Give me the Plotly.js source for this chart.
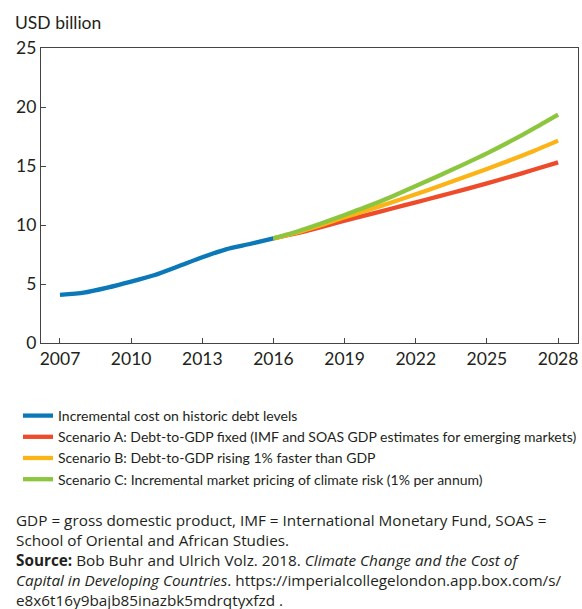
<!DOCTYPE html>
<html>
<head>
<meta charset="utf-8">
<script src="https://cdn.plot.ly/plotly-3.0.1.min.js"></script>
<style>html,body{margin:0;padding:0;background:#fff;}</style>
</head>
<body>
<div id="chart" style="width:582px;height:609px;"></div>
<script>
const histYears = [2007, 2008, 2009, 2010, 2011, 2012, 2013, 2014, 2015, 2016];
const histValues = [4.07, 4.26, 4.69, 5.2, 5.76, 6.5, 7.26, 7.94, 8.39, 8.87];
const scenYears = [2016, 2017, 2018, 2019, 2020, 2021, 2022, 2023, 2024, 2025, 2026, 2027, 2028];
const scenarioA = [8.87, 9.3, 9.82, 10.37, 10.88, 11.4, 11.92, 12.45, 12.98, 13.53, 14.1, 14.7, 15.31];
const scenarioB = [8.87, 9.38, 9.99, 10.65, 11.28, 11.93, 12.6, 13.3, 14.02, 14.75, 15.5, 16.3, 17.15];
const scenarioC = [8.87, 9.45, 10.12, 10.85, 11.6, 12.42, 13.3, 14.2, 15.12, 16.07, 17.1, 18.2, 19.35];
const seriesNames = [
  "Incremental cost on historic debt levels",
  "Scenario A: Debt-to-GDP fixed (IMF and SOAS GDP estimates for emerging markets)",
  "Scenario B: Debt-to-GDP rising 1% faster than GDP",
  "Scenario C: Incremental market pricing of climate risk (1% per annum)"
];
const xTicks = [2007, 2010, 2013, 2016, 2019, 2022, 2025, 2028];
const yTicks = [0, 5, 10, 15, 20, 25];
const noteLines = [
  "GDP = gross domestic product, IMF = International Monetary Fund, SOAS =",
  "School of Oriental and African Studies.",
  "<b>Source:</b> Bob Buhr and Ulrich Volz. 2018. <i>Climate Change and the Cost of</i>",
  "<i>Capital in Developing Countries</i>. https://imperialcollegelondon.app.box.com/s/",
  "e8x6t16y9bajb85inazbk5mdrqtyxfzd ."
];

const colors = ["#0b78b8", "#ee4b2b", "#fbb316", "#8cc63f"];
const FONT = "Lato, 'Open Sans', sans-serif";
const NOTEFONT = "'Open Sans', Lato, sans-serif";
const TXT = "#231f20";

const mk = (x, y, i) => ({
  x: x, y: y, name: seriesNames[i], type: "scatter", mode: "lines",
  line: {color: colors[i], width: 4.3, shape: "spline", smoothing: 0.6},
  hoverinfo: "skip"
});

const data = [
  mk(histYears, histValues, 0),
  mk(scenYears, scenarioA, 1),
  mk(scenYears, scenarioB, 2),
  mk(scenYears, scenarioC, 3)
];

// plot area: y from 48px to 343px (295px tall)
const pyFromPx = px => (343 - px) / 295;
const pxFromPx = px => (px - 41) / 537;

const annotations = [
  {text: "USD billion", xref: "paper", yref: "paper", x: pxFromPx(13), y: pyFromPx(22),
   xanchor: "left", yanchor: "middle", showarrow: false,
   font: {size: 17.5, color: TXT, family: FONT}},
  {text: noteLines.join("<br>"), xref: "paper", yref: "paper", x: pxFromPx(14), y: pyFromPx(560),
   xanchor: "left", yanchor: "middle", showarrow: false, align: "left",
   font: {size: 15.3, color: TXT, family: NOTEFONT}}
];

const layout = {
  width: 582, height: 609,
  margin: {l: 41, r: 4, t: 48, b: 266},
  paper_bgcolor: "#fff", plot_bgcolor: "#fff",
  font: {family: FONT, color: TXT},
  showlegend: true,
  legend: {
    orientation: "v", x: pxFromPx(22), xanchor: "left", y: pyFromPx(400), yanchor: "top",
    font: {family: FONT, size: 14, color: TXT},
    itemwidth: 30, tracegroupgap: 0, bgcolor: "rgba(0,0,0,0)"
  },
  xaxis: {
    range: [2006.2, 2028.84], tickvals: xTicks, ticktext: xTicks.map(String),
    ticks: "inside", ticklen: 5, tickcolor: "#444", tickwidth: 1,
    showgrid: false, zeroline: false, showline: true, linecolor: "#444", linewidth: 1.2,
    mirror: true, tickfont: {size: 17.5, color: TXT}
  },
  yaxis: {
    range: [0, 25], tickvals: yTicks, ticks: "inside", ticklen: 5, tickcolor: "#444",
    showgrid: false, zeroline: false, showline: true, linecolor: "#444", linewidth: 1.2,
    mirror: true, tickfont: {size: 17.5, color: TXT}
  },
  annotations: annotations
};

Plotly.newPlot("chart", data, layout, {staticPlot: true});
</script>
</body>
</html>
